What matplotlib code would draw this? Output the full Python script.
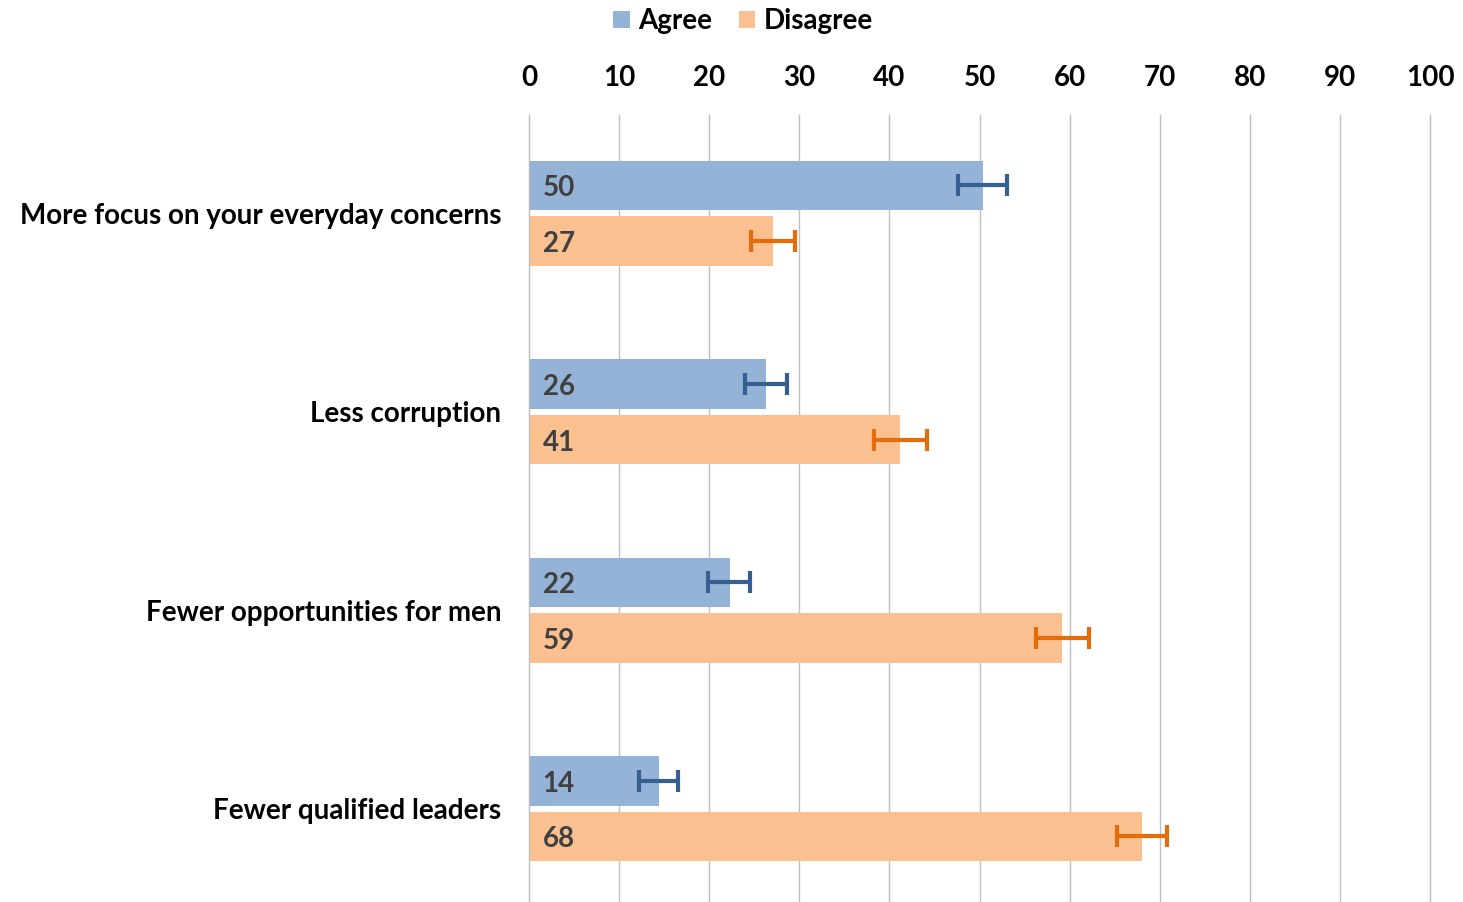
import numpy as np
import matplotlib.pyplot as plt

plt.rcParams['font.family'] = ['Lato', 'DejaVu Sans']
plt.rcParams['font.weight'] = 'bold'

categories = ['More focus on your everyday concerns', 'Less corruption',
              'Fewer opportunities for men', 'Fewer qualified leaders']
agree = [50.4, 26.3, 22.3, 14.4]
disagree = [27.1, 41.2, 59.2, 68.0]
agree_lo = [47.6, 24.0, 19.9, 12.2]
agree_hi = [53.1, 28.6, 24.5, 16.5]
disagree_lo = [24.6, 38.3, 56.3, 65.3]
disagree_hi = [29.5, 44.2, 62.2, 70.8]
agree_labels = ['50', '26', '22', '14']
disagree_labels = ['27', '41', '59', '68']

blue = '#95B3D7'
orange = '#FAC090'
blue_err = '#376092'
orange_err = '#E46C0A'
fs = 20

fig = plt.figure(figsize=(14.63, 9.02), dpi=100)
ax = fig.add_axes([529 / 1463, 0.0, 901 / 1463, 1 - 115 / 902])

y = np.arange(len(categories))
h = 0.25
off = 0.14

a_err = [np.array(agree) - np.array(agree_lo), np.array(agree_hi) - np.array(agree)]
d_err = [np.array(disagree) - np.array(disagree_lo), np.array(disagree_hi) - np.array(disagree)]

ax.barh(y - off, agree, height=h, color=blue, label='Agree', zorder=2)
ax.barh(y + off, disagree, height=h, color=orange, label='Disagree', zorder=2)
ax.errorbar(agree, y - off, xerr=a_err, fmt='none', ecolor=blue_err,
            elinewidth=3, capsize=8, capthick=3, zorder=3)
ax.errorbar(disagree, y + off, xerr=d_err, fmt='none', ecolor=orange_err,
            elinewidth=3, capsize=8, capthick=3, zorder=3)

# small nudge so the numbers sit in the middle of the bar
nudge = 0.015
for i in range(len(categories)):
    ax.text(1.5, y[i] - off + nudge, agree_labels[i], va='center', ha='left',
            fontsize=fs, color='#404040', fontweight='bold', zorder=4)
    ax.text(1.5, y[i] + off + nudge, disagree_labels[i], va='center', ha='left',
            fontsize=fs, color='#404040', fontweight='bold', zorder=4)

ax.set_xlim(0, 100)
ax.set_ylim(3.47, -0.495)
ax.set_xticks(np.arange(0, 101, 10))
ax.xaxis.tick_top()
ax.tick_params(axis='x', length=0, pad=17, labelsize=fs)
ax.set_yticks(y)
ax.set_yticklabels(categories, fontsize=fs)
ax.tick_params(axis='y', length=0, pad=20)
ax.grid(axis='x', color='#BFBFBF', linewidth=1, zorder=0)
for gl in ax.get_xgridlines():
    gl.set_clip_on(False)
for s in ['top', 'right', 'bottom']:
    ax.spines[s].set_visible(False)
ax.spines['left'].set_color('#BFBFBF')

ax.legend(loc='upper center', bbox_to_anchor=(743 / 1463, 0.994), bbox_transform=fig.transFigure,
          ncol=2, frameon=False, fontsize=fs, handlelength=0.6, handleheight=0.6,
          handletextpad=0.3, columnspacing=0.95, borderaxespad=0.0, borderpad=0.1)

fig.savefig('out.png', dpi=100)
